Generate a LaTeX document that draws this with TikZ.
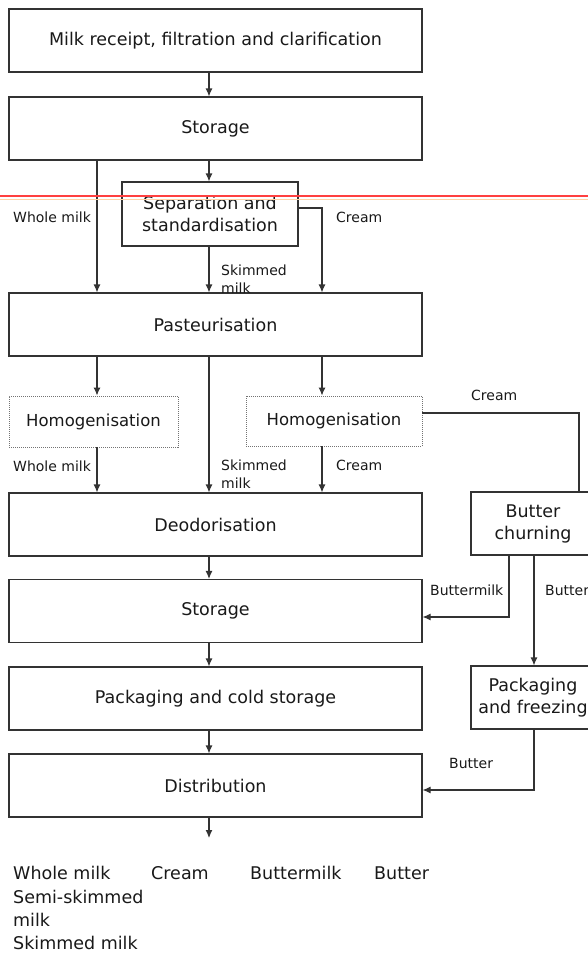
\documentclass[tikz,border=0pt]{standalone}
\usepackage{fontspec}
\setmainfont{DejaVu Sans}
\usetikzlibrary{arrows.meta}
\begin{document}
\begin{tikzpicture}[x=1pt,y=-1pt,
  stage/.style={draw=black!80, line width=1.1pt, inner sep=0pt, align=center,
    text=black!90, font=\fontsize{17.5}{22}\selectfont},
  wide/.style={stage, minimum width=413pt, minimum height=63pt},
  side/.style={stage, minimum width=124pt, minimum height=63pt},
  dottedbox/.style={stage, draw=black!55, line width=0.9pt, dash pattern=on 1pt off 1pt,
    font=\fontsize{16.5}{20}\selectfont},
  flow/.style={draw=black!80, line width=1.1pt, -{Latex[length=8pt,width=7pt]}},
  link/.style={draw=black!80, line width=1.1pt},
  lbl/.style={text=black!90, font=\fontsize{14}{18}\selectfont, inner sep=0pt, align=left, anchor=west},
  product/.style={text=black!90, font=\fontsize{17.5}{23}\selectfont, inner sep=0pt, anchor=base west},
]
\fill[white] (0,0) rectangle (588,953);
\clip (0,0) rectangle (588,953);

% flow columns
\coordinate (cL) at (97,0);
\coordinate (cM) at (209,0);
\coordinate (cR) at (322,0);
\coordinate (cBm) at (509,0);
\coordinate (cB) at (534,0);
\coordinate (cC) at (579,0);

% process stages
\node[wide] (recv) at (215.5,40.5) {Milk receipt, filtration and clarification};
\node[wide] (stoA) at (215.5,128.5) {Storage};
\node[stage, minimum width=176pt, minimum height=64pt] (sep) at (210,214) {Separation and\\standardisation};
\node[wide] (past) at (215.5,324.5) {Pasteurisation};
\node[dottedbox, minimum width=169pt, minimum height=51pt] (homL) at (93.5,421.5) {Homogenisation};
\node[dottedbox, minimum width=176pt, minimum height=50pt] (homR) at (334,421) {Homogenisation};
\node[wide] (deod) at (215.5,524.5) {Deodorisation};
\node[side] (bch) at (533,523.5) {Butter\\churning};
\node[wide] (stoB) at (215.5,611) {Storage};
\node[wide] (pack) at (215.5,698.5) {Packaging and cold storage};
\node[side] (pfz) at (533,697.5) {Packaging\\and freezing};
\node[wide] (dist) at (215.5,785.5) {Distribution};
\coordinate (fin) at (209,838);

% connectors
\draw[flow] (recv.south -| cM) -- (stoA.north -| cM);
\draw[flow] (stoA.south -| cM) -- (sep.north -| cM);
\draw[flow] (stoA.south -| cL) -- (past.north -| cL);
\draw[flow] (sep.south -| cM) -- (past.north -| cM);
\draw[flow] ([yshift=6pt]sep.east) -| (past.north -| cR);
\draw[flow] (past.south -| cL) -- (homL.north -| cL);
\draw[flow] (past.south -| cM) -- (deod.north -| cM);
\draw[flow] (past.south -| cR) -- (homR.north -| cR);
\draw[flow] (homL.south -| cL) -- (deod.north -| cL);
\draw[flow] (homR.south -| cR) -- (deod.north -| cR);
\draw[link] ([yshift=8pt]homR.east) -| (bch.north -| cC);
\draw[flow] (deod.south -| cM) -- (stoB.north -| cM);
\draw[flow] (bch.south -| cBm) |- ([yshift=-6pt]stoB.east);
\draw[flow] (bch.south -| cB) -- (pfz.north -| cB);
\draw[flow] (stoB.south -| cM) -- (pack.north -| cM);
\draw[flow] (pack.south -| cM) -- (dist.north -| cM);
\draw[flow] (pfz.south -| cB) |- ([yshift=-4.5pt]dist.east);
\draw[flow] (dist.south -| cM) -- (fin);

% stream labels
\node[lbl] (lWm1) at (13,217) {Whole milk};
\node[lbl] (lCr1) at (336,217) {Cream};
\node[lbl] (lSk1) at (221,279) {Skimmed\\milk};
\node[lbl] (lCr2) at (471,395) {Cream};
\node[lbl] (lWm2) at (13,466) {Whole milk};
\node[lbl] (lSk2) at (221,474) {Skimmed\\milk};
\node[lbl] (lCr3) at (336,465) {Cream};
\node[lbl] (lBm) at (430,590) {Buttermilk};
\node[lbl] (lBt1) at (545,590) {Butter};
\node[lbl] (lBt2) at (449,763) {Butter};

% products
\node[product] (oWm) at (13,879.5) {Whole milk};
\node[product] (oCr) at (151,879.5) {Cream};
\node[product] (oBm) at (250,879.5) {Buttermilk};
\node[product] (oBt) at (374,879.5) {Butter};
\node[product] (oSs) at (13,903) {Semi-skimmed};
\node[product] (oMk) at (13,926) {milk};
\node[product] (oSm) at (13,949) {Skimmed milk};

% marker rule across the sheet
\draw[red!75, line width=1.3pt] (0,196) -- (588,196);
\draw[orange!35, line width=0.8pt] (0,199) -- (588,199);
\end{tikzpicture}
\end{document}
